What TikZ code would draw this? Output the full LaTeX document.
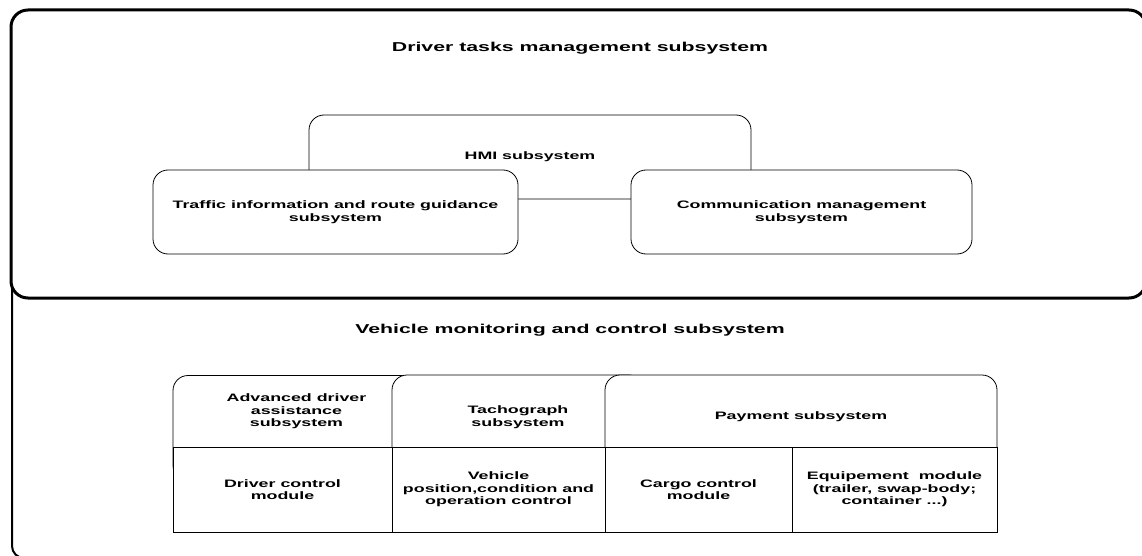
\documentclass[tikz,border=0pt]{standalone}
\usepackage{fontspec}
\setmainfont{Liberation Sans}[FakeStretch=1.65]
\newcommand\dbody{\fontsize{10.8}{12.5}\selectfont\bfseries}
\newcommand\dtitle{\fontsize{12.9}{15}\selectfont\bfseries}
\begin{document}
\begin{tikzpicture}[x=1pt,y=-1pt,
  box/.style={draw=black, line width=0.8pt, fill=white, inner sep=0pt, align=center, font=\dbody},
  rbox/.style={box, rounded corners=15pt},
  txt/.style={align=center, font=\dbody, inner sep=0pt},
  ttl/.style={font=\dtitle, inner sep=0pt, anchor=base},
  frameA/.style={line width=2pt, rounded corners=12pt},
  frameB/.style={line width=3pt, fill=white, rounded corners=17pt}]
\useasboundingbox (0,0) rectangle (1142,556);
% outer frames
\draw[frameA] (12,270) rectangle (1180,558);
\draw[frameB] (11,10) rectangle (1146,298);
% titles
\node[ttl] (dtitle) at (580,51.5) {Driver tasks management subsystem};
\node[ttl] (vtitle) at (570,333) {Vehicle monitoring and control subsystem};
% driver tasks subsystems
\node[rbox, minimum width=442pt, minimum height=84pt] (hmi) at (530,157) {HMI subsystem};
\node[rbox, minimum width=365pt, minimum height=84pt] (traffic) at (335.5,212) {Traffic information and route guidance\\subsystem};
\node[rbox, minimum width=341pt, minimum height=84pt] (comm) at (801.5,212) {Communication management\\subsystem};
% vehicle monitoring: upper row
\node[rbox, minimum width=247pt, minimum height=105pt] (adas) at (296.5,428) {};
\node[txt] (adast) at (296.5,411.5) {Advanced driver\\assistance\\subsystem};
\node[rbox, minimum width=252pt, minimum height=105pt] (tacho) at (518,427.5) {};
\node[txt] (tachot) at (518,417) {Tachograph\\subsystem};
\node[rbox, minimum width=392pt, minimum height=105pt] (pay) at (801,427.5) {};
\node[txt] (payt) at (801,417) {Payment subsystem};
% lower row cells
\node[box, minimum width=219pt, minimum height=85pt] (drv) at (282.5,489.5) {Driver control\\module};
\node[box, minimum width=213pt, minimum height=85pt] (veh) at (498.5,489.5) {Vehicle\\position,condition and\\operation control};
\node[box, minimum width=187pt, minimum height=85pt] (cargo) at (698.5,489.5) {Cargo control\\module};
\node[box, minimum width=205pt, minimum height=85pt] (equip) at (894.5,489.5) {Equipement~ module\\(trailer, swap-body;\\container ...)};
\end{tikzpicture}
\end{document}
